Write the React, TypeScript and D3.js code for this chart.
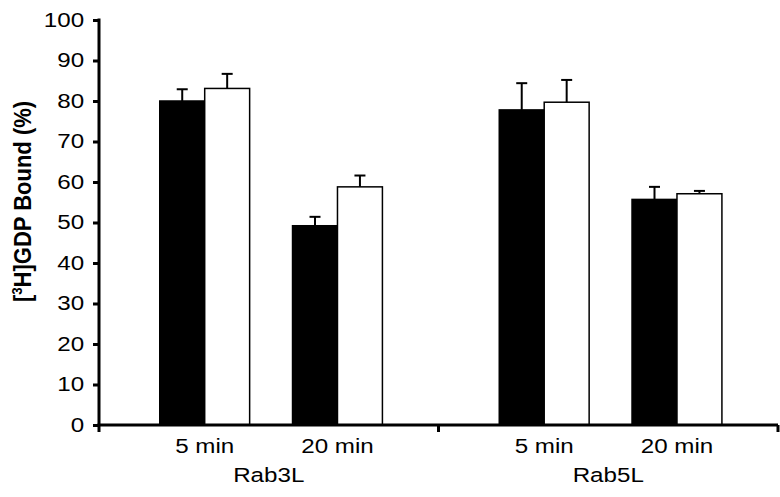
import React, { useEffect, useRef } from 'react';
import * as d3 from 'd3';

// chart data
const groups = ['Rab3L', 'Rab5L'];
const times = ['5 min', '20 min'];
const series = ['filled', 'open'];
const filledValues = [80, 49.2, 77.8, 55.7];
const filledErrors = [2.9, 2.2, 6.6, 3.1];
const openValues = [83.1, 58.8, 79.7, 57.1];
const openErrors = [3.6, 2.8, 5.5, 0.7];
const yTicks = [0, 10, 20, 30, 40, 50, 60, 70, 80, 90, 100];
const yLabel = 'GDP Bound (%)';

const W = 780;
const H = 497;
const SX = 1.24; // the source picture is stretched sideways

function App() {
  const ref = useRef<SVGSVGElement | null>(null);

  useEffect(() => {
    if (!ref.current) return;
    const svg = d3.select(ref.current);
    svg.selectAll('*').remove();

    const margin = { top: 20, right: 2, bottom: 72, left: 99 };
    const font = '"Liberation Sans", Arial, sans-serif';

    const y = d3.scaleLinear().domain([0, 100]).range([H - margin.bottom, margin.top]);
    const x0 = d3.scaleBand().domain(groups).range([margin.left, W - margin.right]);
    const x1 = d3.scaleBand().domain(times).range([0, x0.bandwidth()])
      .paddingInner(0.323).paddingOuter(0.44).align(0.52);
    const x2 = d3.scaleBand().domain(series).range([0, x1.bandwidth()]);

    const rows = groups.flatMap((g, gi) => times.map((t, ti) => {
      const i = gi * times.length + ti;
      return { g, t, i };
    }));

    const bars = svg.append('g');
    rows.forEach(r => {
      const base = (x0(r.g) as number) + (x1(r.t) as number);
      const vals = [
        { s: 'filled', v: filledValues[r.i], e: filledErrors[r.i] },
        { s: 'open', v: openValues[r.i], e: openErrors[r.i] },
      ];
      vals.forEach(d => {
        const bx = base + (x2(d.s) as number);
        const cx = bx + x2.bandwidth() / 2;
        // error bar (plus only)
        bars.append('line')
          .attr('x1', cx).attr('x2', cx)
          .attr('y1', y(d.v)).attr('y2', y(d.v + d.e))
          .attr('stroke', '#000').attr('stroke-width', 2);
        bars.append('line')
          .attr('x1', cx - 5.5).attr('x2', cx + 5.5)
          .attr('y1', y(d.v + d.e)).attr('y2', y(d.v + d.e))
          .attr('stroke', '#000').attr('stroke-width', 2);
        bars.append('rect')
          .attr('x', bx)
          .attr('y', y(d.v))
          .attr('width', x2.bandwidth())
          .attr('height', y(0) - y(d.v))
          .attr('fill', d.s === 'filled' ? '#000' : '#fff')
          .attr('stroke', '#000')
          .attr('stroke-width', 1.5);
      });
    });

    // Y axis
    const yAxis = svg.append('g')
      .attr('transform', `translate(${margin.left},0)`)
      .call(d3.axisLeft(y).tickValues(yTicks).tickSize(6).tickSizeOuter(0).tickPadding(0));
    yAxis.select('.domain').attr('stroke-width', 3).attr('d', `M0,${y(100) - 1.5}V${y(0) + 7}`);
    yAxis.selectAll('.tick line').attr('stroke-width', 3);
    yAxis.selectAll('.tick text')
      .attr('x', -12)
      .attr('transform', `scale(${SX},1)`)
      .style('font-family', font)
      .style('font-size', '19.5px')
      .attr('fill', '#000');

    // X axis
    const xl = svg.append('g');
    xl.append('line')
      .attr('x1', margin.left - 1.5).attr('x2', W - margin.right)
      .attr('y1', y(0)).attr('y2', y(0))
      .attr('stroke', '#000').attr('stroke-width', 3);
    const xTicks = [...groups.map(g => x0(g) as number), x0.range()[1]];
    xTicks.slice(1).forEach(v => {
      xl.append('line')
        .attr('x1', v).attr('x2', v)
        .attr('y1', y(0)).attr('y2', y(0) + 7)
        .attr('stroke', '#000').attr('stroke-width', 3);
    });

    // category labels
    rows.forEach(r => {
      const cx = (x0(r.g) as number) + (x1(r.t) as number) + x1.bandwidth() / 2;
      svg.append('text')
        .attr('transform', `translate(${cx},${y(0) + 28}) scale(${SX},1)`)
        .attr('text-anchor', 'middle')
        .style('font-family', font)
        .style('font-size', '19.5px')
        .text(r.t);
    });
    groups.forEach(g => {
      const cx = (x0(g) as number) + x0.bandwidth() / 2;
      svg.append('text')
        .attr('transform', `translate(${cx},${y(0) + 57}) scale(${SX},1)`)
        .attr('text-anchor', 'middle')
        .style('font-family', font)
        .style('font-size', '19.5px')
        .text(g);
    });

    // Y title
    const t = svg.append('text')
      .attr('transform', `translate(31,${(95 + 308) / 2}) rotate(-90) scale(1.1,${SX})`)
      .attr('text-anchor', 'middle')
      .style('font-family', font)
      .style('font-size', '20px')
      .style('font-weight', 'bold');
    t.append('tspan').text('[');
    t.append('tspan').attr('dy', -7).style('font-size', '12px').text('3');
    t.append('tspan').attr('dy', 7).text('H]');
    t.append('tspan').text(yLabel);
  }, []);

  return (
    <svg ref={ref} width={W} height={H}
      style={{ position: 'absolute', left: 0, top: 0, background: '#fff' }} />
  );
}

export default App;
